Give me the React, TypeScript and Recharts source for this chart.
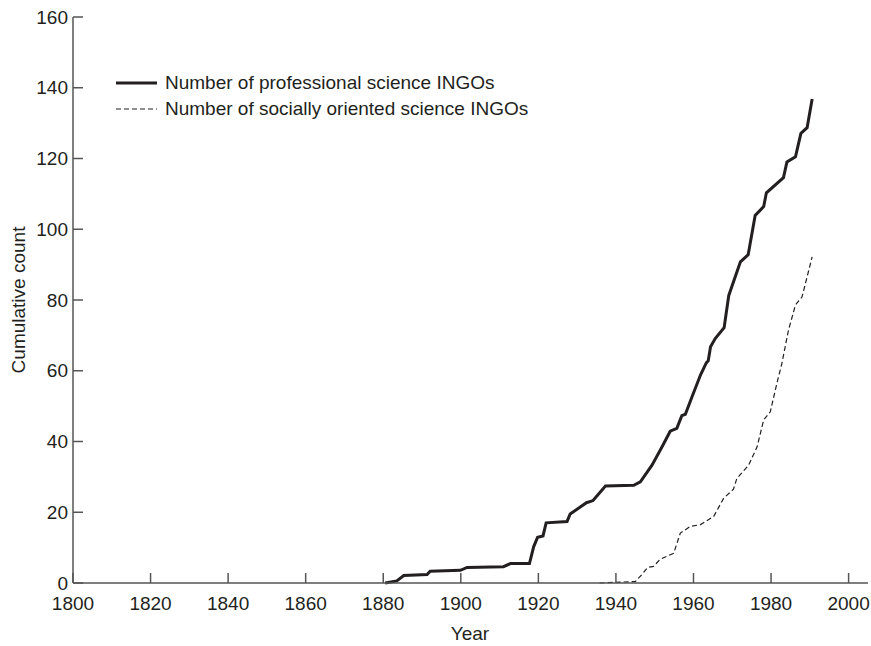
import { LineChart, Line, XAxis, YAxis, Label } from 'recharts'

const yearTicks = [1800, 1820, 1840, 1860, 1880, 1900, 1920, 1940, 1960, 1980, 2000]
const countTicks = [0, 20, 40, 60, 80, 100, 120, 140, 160]

// professional science INGOs (cumulative)
const profYears = [
  1880.5, 1883.5, 1885.3, 1891.3, 1892.1, 1899.9, 1901.6, 1911, 1912.8, 1917.7, 1918.8, 1919.8,
  1921.2, 1922, 1927.4, 1928.2, 1932.4, 1934.1, 1937.3, 1944.6, 1946.3, 1949.3, 1951.9, 1954,
  1955.7, 1957, 1957.9, 1959.6, 1961.8, 1963.3, 1963.8, 1964.4, 1965.6, 1967.9, 1969.1, 1972.1,
  1974.1, 1975.9, 1978.1, 1978.8, 1983.2, 1984.1, 1986.3, 1987.7, 1989.3, 1990.6,
]
const profCounts = [
  0, 0.6, 2.1, 2.4, 3.3, 3.6, 4.4, 4.6, 5.5, 5.5, 10.3, 12.9,
  13.3, 17, 17.4, 19.5, 22.7, 23.3, 27.4, 27.6, 28.6, 33.3, 38.5, 42.9,
  43.7, 47.3, 47.7, 52.6, 58.8, 62.2, 62.8, 66.8, 69.1, 72.2, 81.3, 90.8,
  92.8, 103.9, 106.4, 110.3, 114.6, 119, 120.5, 127.1, 128.7, 136.8,
]

// socially oriented science INGOs (cumulative)
const socYears = [
  1935.8, 1939.8, 1945, 1946.7, 1948.2, 1949.7, 1951.4, 1954.9, 1956.6, 1959.2, 1961.8, 1965.2,
  1967.8, 1970.3, 1971.2, 1974.2, 1976.4, 1978.1, 1979.8, 1981.5, 1982.8, 1984.5, 1986.3, 1988,
  1990.6,
]
const socCounts = [
  0, 0.2, 0.4, 2.4, 4.4, 4.7, 6.7, 8.4, 14.1, 16, 16.5, 18.8,
  24, 26.5, 29.6, 33.3, 38.5, 46.1, 48.4, 56.4, 62.1, 71.5, 78.6, 80.9,
  92.2,
]

const profData = profYears.map((year, i) => ({ year, count: profCounts[i] }))
const socData = socYears.map((year, i) => ({ year, count: socCounts[i] }))

const font = '"Liberation Sans", Arial, sans-serif'
const ink = '#231f20'
const axisGray = '#555'

const legendRows = [
  { name: 'Number of professional science INGOs', width: 3, dash: undefined },
  { name: 'Number of socially oriented science INGOs', width: 1.2, dash: '5 3' },
]

function LegendBox() {
  return (
    <div
      style={{
        position: 'absolute',
        left: 116,
        top: 70,
        fontFamily: font,
        fontSize: 19,
        color: ink,
        whiteSpace: 'nowrap',
      }}
    >
      {legendRows.map((r) => (
        <div key={r.name} style={{ display: 'flex', alignItems: 'center', height: 26 }}>
          <svg width={41} height={10} style={{ marginRight: 8 }}>
            <line x1={0} y1={5} x2={41} y2={5} stroke={ink} strokeWidth={r.width} strokeDasharray={r.dash} />
          </svg>
          <span>{r.name}</span>
        </div>
      ))}
    </div>
  )
}

export default function App() {
  return (
    <div style={{ position: 'absolute', left: 0, top: 0, width: 871, height: 646, background: '#fff' }}>
      <LineChart width={871} height={646} margin={{ top: 17, right: 3, left: 0, bottom: 0 }}>
        <XAxis
          dataKey="year"
          type="number"
          domain={[1800, 2005]}
          ticks={yearTicks}
          allowDataOverflow
          height={63}
          tickSize={-10}
          tickMargin={24}
          axisLine={{ stroke: axisGray, strokeWidth: 1.5 }}
          tickLine={{ stroke: axisGray, strokeWidth: 1.5 }}
          tick={{ fill: ink, fontSize: 19, fontFamily: font }}
        >
          <Label
            content={() => (
              <text x={470} y={640} textAnchor="middle" fill={ink} fontSize={19} fontFamily={font}>
                Year
              </text>
            )}
          />
        </XAxis>
        <YAxis
          dataKey="count"
          type="number"
          domain={[0, 160]}
          ticks={countTicks}
          width={73}
          tickSize={-10}
          tickMargin={15}
          axisLine={{ stroke: axisGray, strokeWidth: 1.5 }}
          tickLine={{ stroke: axisGray, strokeWidth: 1.5 }}
          tick={{ fill: ink, fontSize: 19, fontFamily: font }}
        >
          <Label
            content={() => (
              <text
                x={18}
                y={300}
                transform="rotate(-90 18 300)"
                textAnchor="middle"
                dominantBaseline="central"
                fill={ink}
                fontSize={19}
                fontFamily={font}
              >
                Cumulative count
              </text>
            )}
          />
        </YAxis>
        <Line
          data={profData}
          dataKey="count"
          type="linear"
          stroke={ink}
          strokeWidth={3}
          dot={false}
          isAnimationActive={false}
        />
        <Line
          data={socData}
          dataKey="count"
          type="linear"
          stroke={ink}
          strokeWidth={1.2}
          strokeDasharray="5 3"
          dot={false}
          isAnimationActive={false}
        />
      </LineChart>
      <LegendBox />
    </div>
  )
}
